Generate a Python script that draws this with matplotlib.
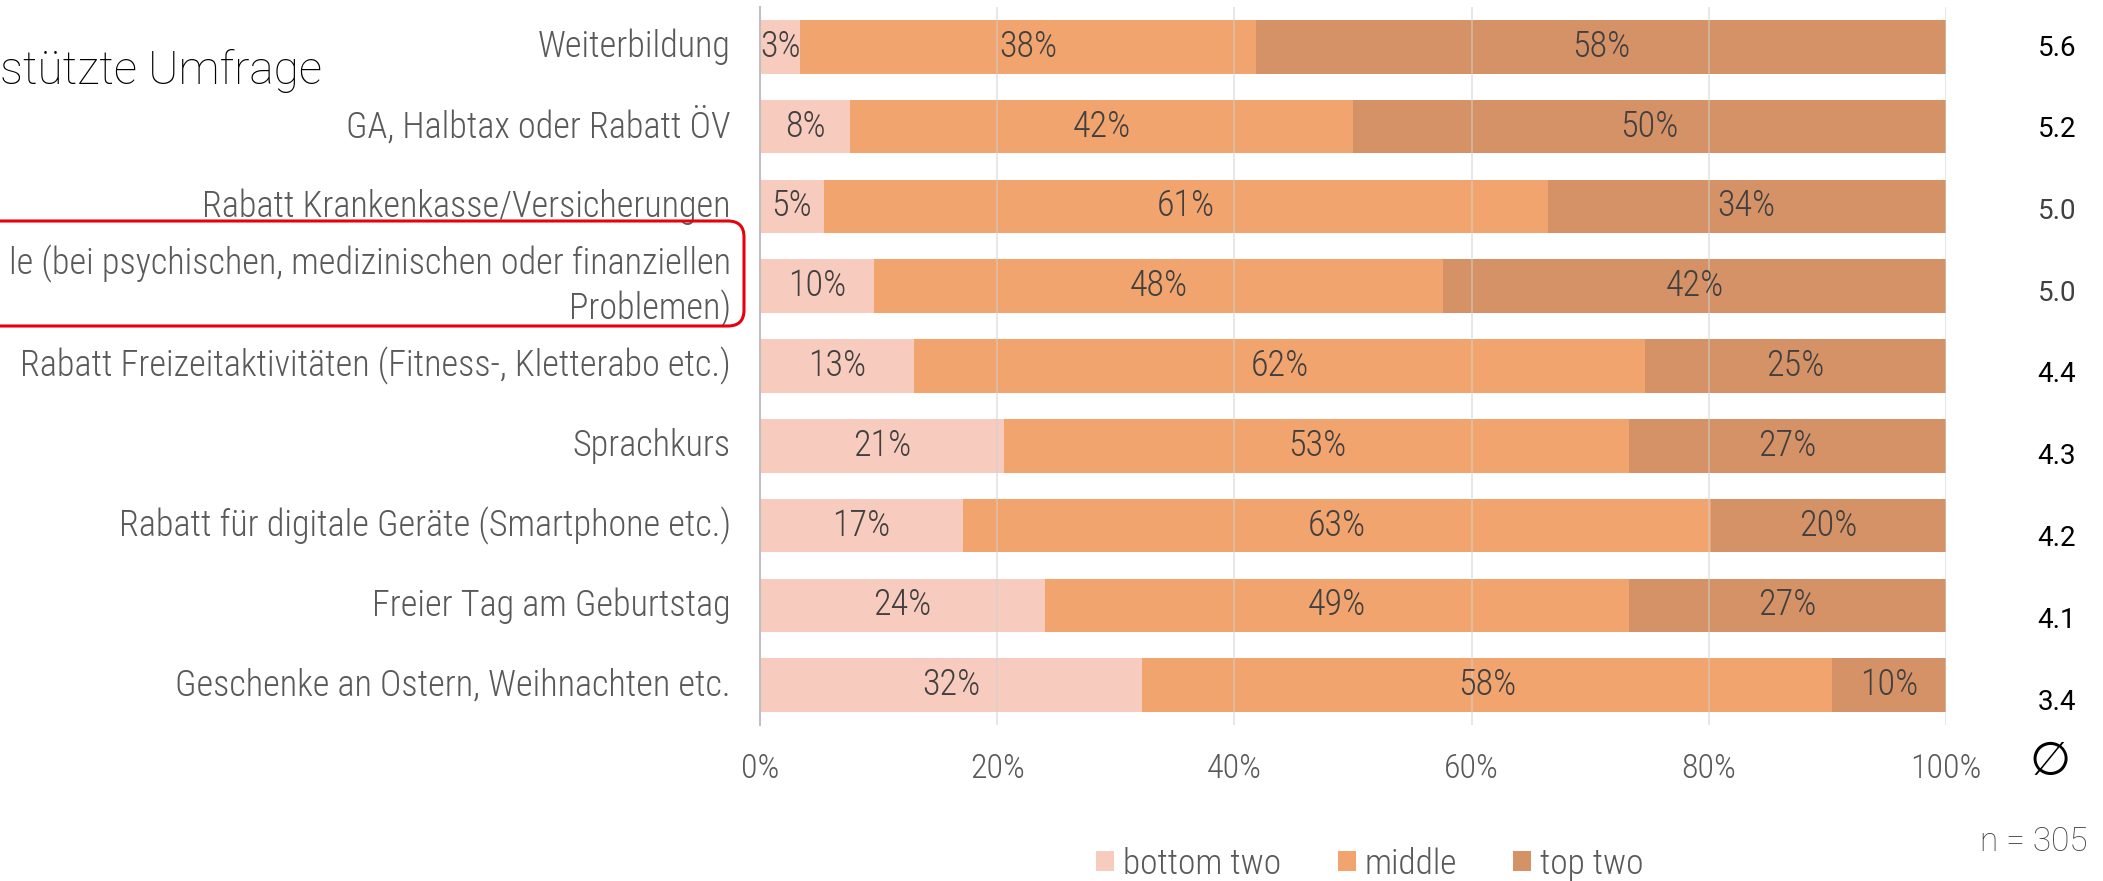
import matplotlib
matplotlib.use("Agg")
import matplotlib.pyplot as plt
from matplotlib import font_manager
from matplotlib.patches import Patch, FancyBboxPatch
from matplotlib.transforms import ScaledTranslation
import numpy as np

# ---------------- data ----------------
categories = [
    "Weiterbildung",
    "GA, Halbtax oder Rabatt ÖV",
    "Rabatt Krankenkasse/Versicherungen",
    "le (bei psychischen, medizinischen oder finanziellen\nProblemen)",
    "Rabatt Freizeitaktivitäten (Fitness-, Kletterabo etc.)",
    "Sprachkurs",
    "Rabatt für digitale Geräte (Smartphone etc.)",
    "Freier Tag am Geburtstag",
    "Geschenke an Ostern, Weihnachten etc.",
]
bottom_two = [3.4, 7.6, 5.4, 9.6, 13.0, 20.6, 17.1, 24.0, 32.2]
middle = [38.4, 42.4, 61.0, 48.0, 61.6, 52.7, 63.1, 49.3, 58.2]
top_two = [58.2, 50.0, 33.6, 42.4, 25.4, 26.7, 19.8, 26.7, 9.6]
means = ["5.6", "5.2", "5.0", "5.0", "4.4", "4.3", "4.2", "4.1", "3.4"]
mean_colors = ["#000000", "#000000", "#404040", "#404040", "#000000",
               "#000000", "#000000", "#000000", "#000000"]
series_names = ["bottom two", "middle", "top two"]
series_colors = ["#F7CBBD", "#F2A46E", "#D69267"]
xticks = [0, 20, 40, 60, 80, 100]
xtick_labels = ["0%", "20%", "40%", "60%", "80%", "100%"]
title_text = "stützte Umfrage"
n_text = "n = 305"

# ---------------- fonts ----------------
names = {f.name for f in font_manager.fontManager.ttflist}
if "Roboto Condensed" in names:
    COND = ["Roboto Condensed", "Roboto", "DejaVu Sans"]
    cs = 1.0
else:
    COND = ["Roboto", "DejaVu Sans"]
    cs = 0.86
REG = ["Roboto", "DejaVu Sans"]

W, H, DPI = 2103, 881, 100
fig = plt.figure(figsize=(W / DPI, H / DPI), dpi=DPI)
ax = fig.add_axes([760 / W, 1 - 725 / H, (1946 - 760) / W, (725 - 7) / H])

y = np.arange(len(categories))
left = np.zeros(len(categories))
for vals, name, col in zip([bottom_two, middle, top_two], series_names, series_colors):
    vals = np.asarray(vals)
    ax.barh(y, vals, left=left, height=0.67, color=col, label=name, zorder=2)
    for yi, l, v in zip(y, left, vals):
        ax.text(l + v / 2, yi, f"{v:.0f}%", ha="center", va="center",
                color="#404040", fontsize=26 * cs, family=COND, fontweight="light", zorder=4)
    left = left + vals

ax.set_xlim(0, 100)
ax.set_ylim(len(categories) - 0.5, -0.5)
for s in ["top", "right", "bottom"]:
    ax.spines[s].set_visible(False)
ax.spines["left"].set_color("#BFBFBF")
ax.spines["left"].set_linewidth(1.5)
ax.spines["left"].set_zorder(5)
for xv in xticks[1:]:
    ax.axvline(xv, color="#D0D0D0", lw=1.2, alpha=0.6, zorder=3)

ax.set_xticks(xticks)
ax.set_xticklabels(xtick_labels, fontsize=24.5 * cs, family=COND, fontweight="light", color="#595959")
ax.set_yticks(y)
ax.set_yticklabels(categories, fontsize=26 * cs, family=COND, fontweight="light", color="#595959",
                   linespacing=1.2)
ax.tick_params(axis="x", length=0, pad=20)
ax.tick_params(axis="y", length=0, pad=21)
for lbl in ax.get_yticklabels():
    dy = 7 if "\n" in lbl.get_text() else 4
    lbl.set_transform(lbl.get_transform() + ScaledTranslation(0, dy / DPI, fig.dpi_scale_trans))

# mean column
ys = np.linspace(1 - 48 / H, 1 - 702 / H, len(means))
for m, yy, c in zip(means, ys, mean_colors):
    fig.text(2057 / W, yy, m, ha="center", va="center", fontsize=20, family=REG, color=c)
fig.text(2050 / W, 1 - 762 / H, "\u2205", ha="center", va="center", fontsize=34,
         family=["DejaVu Sans", "Noto Sans"], color="#000000")
fig.text(2088 / W, 1 - 842 / H, n_text, ha="right", va="center", fontsize=24,
         family=REG, fontweight="light", color="#404040")

# title (cropped at left edge)
fig.text(322 / W, 1 - 71 / H, title_text, ha="right", va="center", fontsize=33,
         family=REG, fontweight="light", color="#000000")

# red highlight box
box = FancyBboxPatch((-30, H - 326), 744 + 30, 326 - 221,
                     boxstyle="round,pad=0,rounding_size=16", transform=None,
                     fill=False, edgecolor="#E8000B", linewidth=2.2, figure=fig)
fig.patches.append(box)

# legend
handles = [Patch(facecolor=c, edgecolor="none", label=n) for n, c in zip(series_names, series_colors)]
fs_leg = 25.5 * cs
em = fs_leg * DPI / 72
fig.legend(handles=handles, loc="center", bbox_to_anchor=(1370 / W, 1 - 864 / H), ncol=3,
           frameon=False, prop={"family": COND, "size": fs_leg, "weight": "light"},
           labelcolor="#595959", handlelength=18 / em, handleheight=18 / em,
           handletextpad=9 / em, columnspacing=56 / em, borderpad=0, borderaxespad=0)

fig.savefig("out.png", dpi=DPI)
